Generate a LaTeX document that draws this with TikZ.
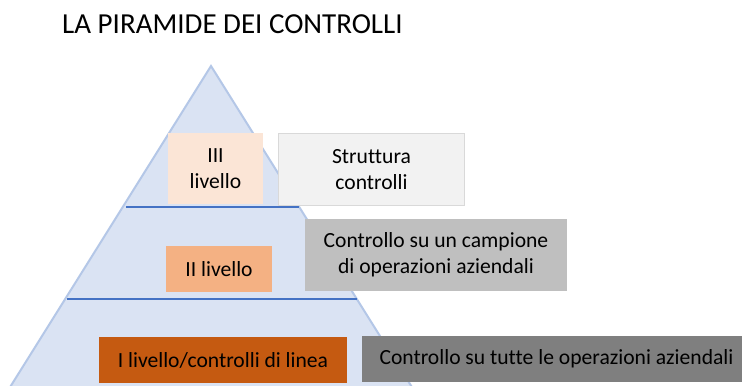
\documentclass[tikz,border=0pt]{standalone}
\usepackage{fontspec}
\setmainfont{Carlito}[Ligatures=NoCommon]
\usetikzlibrary{calc}
\definecolor{trifill}{HTML}{DAE3F3}
\definecolor{triedge}{HTML}{B4C7E7}
\definecolor{divline}{HTML}{4472C4}
\definecolor{lvlthree}{HTML}{FBE5D6}
\definecolor{lvltwo}{HTML}{F4B183}
\definecolor{lvlone}{HTML}{C55A11}
\definecolor{descthree}{HTML}{F2F2F2}
\definecolor{descthreeedge}{HTML}{D9D9D9}
\definecolor{desctwo}{HTML}{BFBFBF}
\definecolor{descone}{HTML}{7F7F7F}
\tikzset{
  box/.style={inner sep=0pt, align=center, text=black,
    font=\fontsize{21.6}{26}\selectfont},
  divider/.style={draw=divline, line width=1.1pt},
}
\begin{document}
\begin{tikzpicture}[x=1pt,y=-1pt]
\useasboundingbox (0,0) rectangle (743,385);
\clip (0,0) rectangle (743,385);
\fill[white] (0,0) rectangle (743,385);
% title
\node[anchor=base west, inner sep=0pt, font=\fontsize{29}{34}\selectfont] (title) at (62,33.5) {LA PIRAMIDE DEI CONTROLLI};
% pyramid
\coordinate (apex) at (211,66);
\coordinate (bl) at (2,400);
\coordinate (br) at (420,400);
\draw[fill=trifill, draw=triedge, line width=2pt, line join=miter] (apex) -- (bl) -- (br) -- cycle;
\coordinate (d1l) at ($(apex)!0.4222!(bl)+(3,0)$);
\coordinate (d1r) at ($(apex)!0.4222!(br)$);
\coordinate (d2l) at ($(apex)!0.6976!(bl)+(2,0)$);
\coordinate (d2r) at ($(apex)!0.6976!(br)$);
\draw[divider] (d1l) -- (d1r);
\draw[divider] (d2l) -- (d2r);
% level boxes
\node[box, fill=lvlthree, minimum width=95pt, minimum height=71pt] (l3) at (215.5,168.5) {III\\livello};
\node[box, fill=descthree, draw=descthreeedge, line width=1.5pt, minimum width=186pt, minimum height=72pt] (d3) at (371.5,169.5) {Struttura\\controlli};
\node[box, fill=lvltwo, minimum width=106pt, minimum height=46pt] (l2) at (219,269) {II livello};
\node[box, fill=desctwo, minimum width=262pt, minimum height=72pt] (d2) at (436,255) {Controllo su un campione\\di operazioni aziendali};
\node[box, fill=lvlone, minimum width=248pt, minimum height=46pt] (l1) at (223,360) {I livello/controlli di linea};
\node[box, fill=descone, minimum width=380pt, minimum height=46pt] (d1) at (552,359) {\hspace*{9pt}Controllo su tutte le operazioni aziendali};
\end{tikzpicture}
\end{document}
